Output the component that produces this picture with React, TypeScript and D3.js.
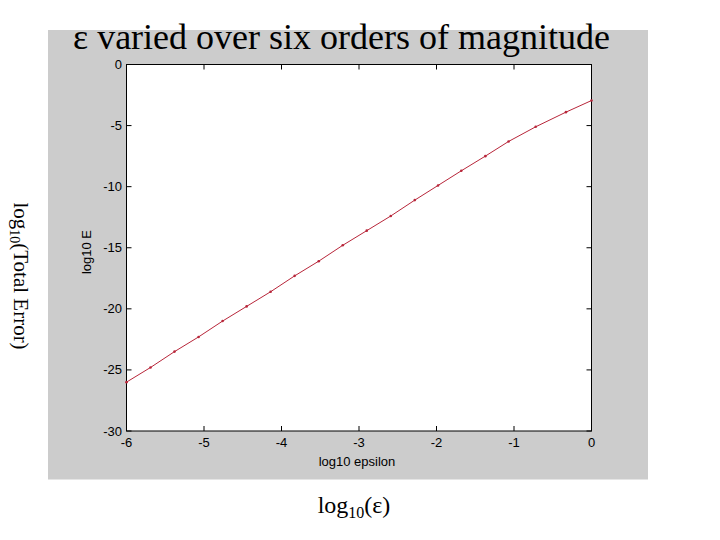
import React from "react";
import * as d3 from "d3";

const logEps = [-6.0, -5.69, -5.38, -5.07, -4.76, -4.45, -4.14, -3.83, -3.52, -3.21, -2.9, -2.59, -2.28, -1.98, -1.68, -1.37, -1.07, -0.72, -0.33, 0];
const logErr = [-26.0, -24.8, -23.5, -22.3, -21.0, -19.8, -18.6, -17.3, -16.1, -14.8, -13.6, -12.4, -11.1, -9.9, -8.7, -7.5, -6.3, -5.1, -3.9, -2.95];
const xTicks = [-6, -5, -4, -3, -2, -1, 0];
const yTicks = [0, -5, -10, -15, -20, -25, -30];

const W = 720;
const H = 540;
const plot = { left: 126.5, right: 591.5, top: 64.5, bottom: 431 };

export default function App() {
  const x = d3.scaleLinear().domain([-6, 0]).range([plot.left, plot.right]);
  const y = d3.scaleLinear().domain([-30, 0]).range([plot.bottom, plot.top]);
  const pts: [number, number][] = logEps.map((v, i) => [v, logErr[i]]);
  const line = d3.line<[number, number]>().x((d) => x(d[0])).y((d) => y(d[1]));
  const lineColor = "#b8263a";
  const tickFont = "'Liberation Sans', Arial, sans-serif";
  const serif = "'Liberation Serif', 'Times New Roman', serif";
  const tl = 5;
  return (
    <svg width={W} height={H} style={{ position: "absolute", left: 0, top: 0, background: "#fff" }}>
      <rect x={48} y={30} width={600} height={449.5} fill="#cccccc" />
      <rect x={plot.left} y={plot.top} width={plot.right - plot.left} height={plot.bottom - plot.top} fill="#fff" stroke="#000" strokeWidth={1} />
      {xTicks.map((t) => (
        <g key={"x" + t}>
          <line x1={x(t)} x2={x(t)} y1={plot.bottom} y2={plot.bottom - tl} stroke="#000" />
          <line x1={x(t)} x2={x(t)} y1={plot.top} y2={plot.top + tl} stroke="#000" />
          <text x={x(t)} y={447} textAnchor="middle" fontFamily={tickFont} fontSize={13} fill="#000">
            {t === 0 ? "0" : "-" + Math.abs(t)}
          </text>
        </g>
      ))}
      {yTicks.map((t) => (
        <g key={"y" + t}>
          <line x1={plot.left} x2={plot.left + tl} y1={y(t)} y2={y(t)} stroke="#000" />
          <line x1={plot.right} x2={plot.right - tl} y1={y(t)} y2={y(t)} stroke="#000" />
          <text x={122} y={y(t)} dy="0.35em" textAnchor="end" fontFamily={tickFont} fontSize={13} fill="#000">
            {t === 0 ? "0" : "-" + Math.abs(t)}
          </text>
        </g>
      ))}
      <path d={line(pts) || ""} fill="none" stroke={lineColor} strokeWidth={1} />
      {pts.map((p, i) => (
        <circle key={i} cx={x(p[0])} cy={y(p[1])} r={1.3} fill={lineColor} />
      ))}
      <text x={357} y={466} textAnchor="middle" fontFamily={tickFont} fontSize={13} fill="#000">
        log10 epsilon
      </text>
      <text transform="translate(91,252) rotate(-90)" textAnchor="middle" fontFamily={tickFont} fontSize={13} fill="#000">
        log10 E
      </text>
      <text x={341.5} y={49} textAnchor="middle" fontFamily={serif} fontSize={36} fill="#000">
        ε varied over six orders of magnitude
      </text>
      <text x={354} y={513} textAnchor="middle" fontFamily={serif} fontSize={24} fill="#000">
        log<tspan fontSize={16} dy={5}>10</tspan><tspan dy={-5}>(ε)</tspan>
      </text>
      <text transform="translate(14,276) rotate(90)" textAnchor="middle" fontFamily={serif} fontSize={21} fill="#000">
        log<tspan fontSize={14} dy={4}>10</tspan><tspan dy={-4}>(Total Error)</tspan>
      </text>
    </svg>
  );
}
